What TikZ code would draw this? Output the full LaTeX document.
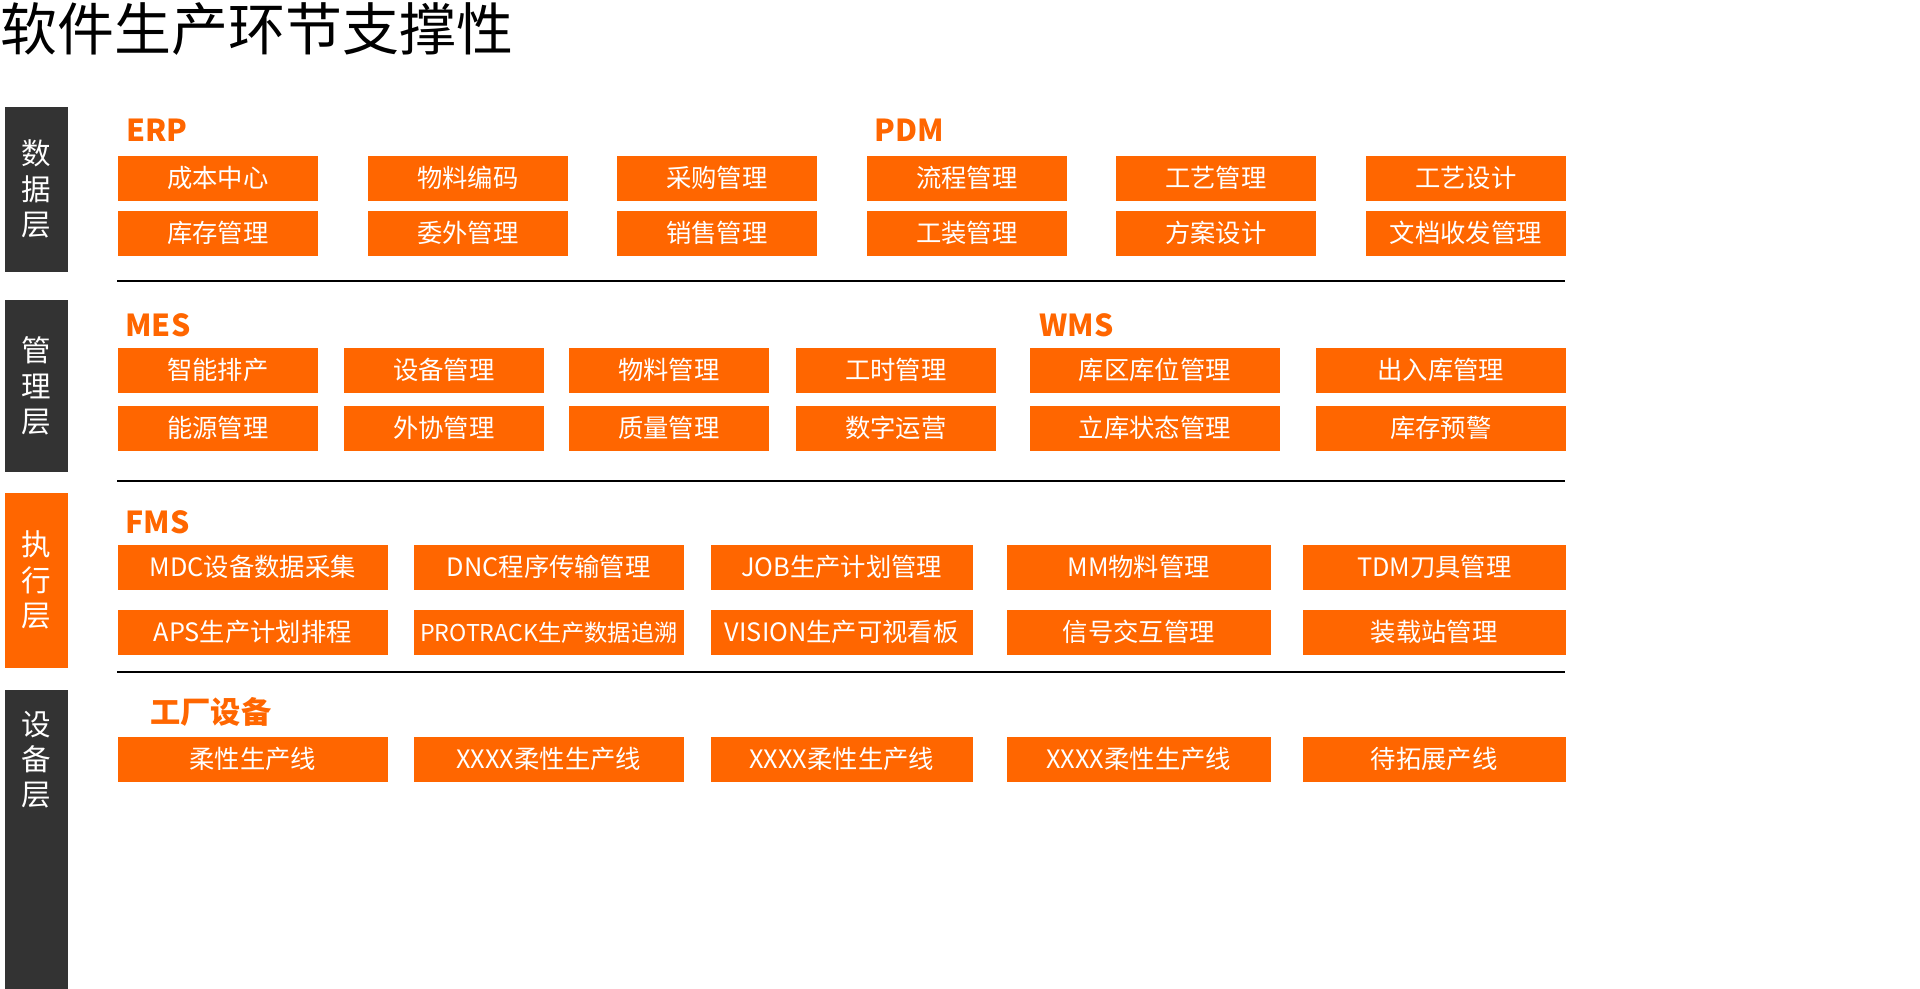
\documentclass[tikz,border=0pt]{standalone}
\usepackage{fontspec}
\setmainfont{Noto Sans CJK SC}
\usepackage{tikz}

\definecolor{orng}{HTML}{FF6600}
\definecolor{darkbar}{HTML}{333333}

\tikzset{
  modbox/.style={fill=orng, text=white, minimum height=0.45cm, inner sep=0pt,
    font=\fontsize{7.2}{8}\selectfont},
  grouplbl/.style={anchor=west, text=orng, font=\fontsize{8.6}{9}\selectfont\bfseries},
  layerbar/.style={text=white, font=\fontsize{8.4}{10}\selectfont, align=center},
  sepline/.style={thick, black}
}

\begin{document}
\begin{tikzpicture}[x=0.01cm, y=-0.01cm]
        \useasboundingbox (0,0) rectangle (1920,989);

        % Title
        \node[anchor=north west, inner sep=0pt, font=\fontsize{16.2}{17}\selectfont] (title) at (0,2) {软件生产环节支撑性};

        % Layer bars
        \fill[darkbar] (5,107) rectangle (68,272);
        \node[layerbar] (lyrdata) at (36.5,189) {数\\据\\层};
        \fill[darkbar] (5,300) rectangle (68,472);
        \node[layerbar] (lyrmgmt) at (36.5,386) {管\\理\\层};
        \fill[orng] (5,493) rectangle (68,668);
        \node[layerbar] (lyrexec) at (36.5,580) {执\\行\\层};
        \fill[darkbar] (5,690) rectangle (68,989);
        \node[layerbar] (lyrdev) at (36.5,760) {设\\备\\层};

        % Separators
        \draw[sepline] (117,281) -- (1565,281);
        \draw[sepline] (117,481) -- (1565,481);
        \draw[sepline] (117,672) -- (1565,672);

        % Data layer
        \node[grouplbl] (erp) at (114,130) {ERP};
        \node[grouplbl] (pdm) at (862,130) {PDM};
        \foreach \x/\t [count=\i] in {117/成本中心, 367/物料编码, 616/采购管理, 866/流程管理, 1115/工艺管理, 1365/工艺设计}
          \node[modbox, minimum width=2cm, anchor=north west] (da\i) at (\x,155) {\t};
        \foreach \x/\t [count=\i] in {117/库存管理, 367/委外管理, 616/销售管理, 866/工装管理, 1115/方案设计, 1365/文档收发管理}
          \node[modbox, minimum width=2cm, anchor=north west] (db\i) at (\x,210) {\t};

        % Management layer
        \node[grouplbl] (mes) at (113,325) {MES};
        \node[grouplbl] (wms) at (1027,325) {WMS};
        \foreach \x/\w/\t [count=\i] in {117/200/智能排产, 343/200/设备管理, 568/200/物料管理, 795/200/工时管理, 1029/250/库区库位管理, 1315/250/出入库管理}
          \node[modbox, minimum width=\w*0.01cm, anchor=north west] (ma\i) at (\x,347) {\t};
        \foreach \x/\w/\t [count=\i] in {117/200/能源管理, 343/200/外协管理, 568/200/质量管理, 795/200/数字运营, 1029/250/立库状态管理, 1315/250/库存预警}
          \node[modbox, minimum width=\w*0.01cm, anchor=north west] (mb\i) at (\x,405) {\t};

        % Execution layer
        \node[grouplbl] (fms) at (113,522) {FMS};
        \foreach \x/\w/\t [count=\i] in {117/270/MDC设备数据采集, 413/270/DNC程序传输管理, 710/262/JOB生产计划管理, 1006/264/MM物料管理, 1302/263/TDM刀具管理}
          \node[modbox, minimum width=\w*0.01cm, anchor=north west] (ea\i) at (\x,544) {\t};
        \foreach \x/\w/\t [count=\i] in {117/270/APS生产计划排程, 710/262/VISION生产可视看板, 1006/264/信号交互管理, 1302/263/装载站管理}
          \node[modbox, minimum width=\w*0.01cm, anchor=north west] (eb\i) at (\x,609) {\t};
        \node[modbox, minimum width=2.7cm, anchor=north west, font=\fontsize{6.6}{8}\selectfont] (ebp) at (413,609) {PROTRACK生产数据追溯};

        % Device layer
        \node[grouplbl] (fac) at (138,712) {工厂设备};
        \foreach \x/\w/\t [count=\i] in {117/270/柔性生产线, 413/270/XXXX柔性生产线, 710/262/XXXX柔性生产线, 1006/264/XXXX柔性生产线, 1302/263/待拓展产线}
          \node[modbox, minimum width=\w*0.01cm, anchor=north west] (dv\i) at (\x,736) {\t};
\end{tikzpicture}
\end{document}
